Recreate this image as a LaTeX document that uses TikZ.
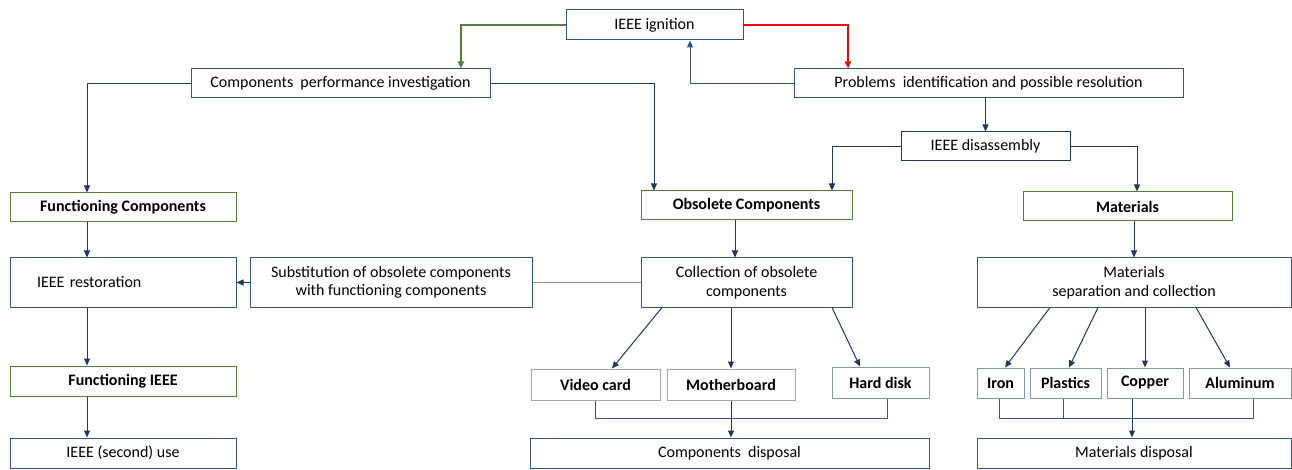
\documentclass[tikz,border=0pt]{standalone}
\usepackage{fontspec}
\setmainfont{Carlito}
\usepackage{xcolor}
\usetikzlibrary{arrows.meta, positioning, calc}

\definecolor{boxblue}{HTML}{2F5597}
\definecolor{boxnavy}{HTML}{1F3864}
\definecolor{boxgreen}{HTML}{548235}
\definecolor{partgray}{HTML}{A5A5A5}
\definecolor{partblue}{HTML}{8497B0}
\definecolor{linkred}{HTML}{FF0000}

\begin{document}
\begin{tikzpicture}[
    x=1pt, y=-1pt,
    font=\fontsize{16}{18.5}\selectfont,
    box/.style={draw=boxblue, line width=1pt, align=center, inner sep=0pt, fill=white},
    greenbox/.style={box, draw=boxgreen, font=\fontsize{16}{18.5}\selectfont\bfseries},
    partbox/.style={box, draw=partblue, font=\fontsize{16}{18.5}\selectfont\bfseries},
    arrow/.style={-{Triangle[length=7pt, width=6pt]}, draw=boxnavy, line width=1pt},
    greenarrow/.style={arrow, draw=boxgreen, line width=2pt},
    redarrow/.style={arrow, draw=linkred, line width=2pt},
    link/.style={draw=boxblue, line width=1pt}
]
    \useasboundingbox (0,0) rectangle (1292,470);

    % Top row
    \node[box, minimum width=177pt, minimum height=30pt] (ign) at (654.5,25) {IEEE ignition};
    \node[box, minimum width=299pt, minimum height=29pt] (perf) at (340.5,83.5) {Components\ \ performance investigation};
    \node[box, minimum width=389pt, minimum height=29pt] (prob) at (988.5,83.5) {Problems\ \ identification and possible resolution};
    \node[box, draw=boxnavy, minimum width=169pt, minimum height=29pt] (disasm) at (985.5,146.5) {IEEE disassembly};

    % Green headings
    \node[greenbox, minimum width=226pt, minimum height=29pt] (fcomp) at (123,207.5) {Functioning Components};
    \node[greenbox, minimum width=211pt, minimum height=29pt] (obs) at (746.5,205.5) {Obsolete Components};
    \node[greenbox, minimum width=209pt, minimum height=29pt] (mat) at (1127.5,206.5) {Materials};

    % Middle row
    \node[box, minimum width=226pt, minimum height=49pt, text width=172pt, align=left, inner xsep=27pt] (restor) at (123,282.5) {IEEE restoration};
    \node[box, minimum width=282pt, minimum height=49pt] (subst) at (391,282.5) {Substitution of obsolete components\\with functioning components};
    \node[box, minimum width=211pt, minimum height=49pt] (coll) at (746.5,282.5) {Collection of obsolete\\components};
    \node[box, minimum width=314pt, minimum height=49pt] (matsep) at (1134,282.5) {Materials\\separation and collection};

    % Parts
    \node[partbox, draw=partgray, minimum width=129pt, minimum height=31pt] (video) at (595.5,384.5) {Video card};
    \node[partbox, draw=partgray, minimum width=128pt, minimum height=31pt] (mother) at (731,384.5) {Motherboard};
    \node[partbox, minimum width=97pt, minimum height=31pt] (hard) at (880.5,382.5) {Hard disk};
    \node[partbox, minimum width=47pt, minimum height=30pt] (iron) at (1000.5,383) {Iron};
    \node[partbox, minimum width=71pt, minimum height=30pt] (plast) at (1065.5,383) {Plastics};
    \node[partbox, minimum width=76pt, minimum height=30pt] (copper) at (1145,383) {Copper};
    \node[partbox, minimum width=102pt, minimum height=30pt] (alum) at (1240,383) {Aluminum};

    % Bottom row
    \node[greenbox, minimum width=226pt, minimum height=30pt] (fieee) at (123,381) {Functioning IEEE};
    \node[box, minimum width=226pt, minimum height=30pt] (use) at (123,453) {IEEE (second) use};
    \node[box, minimum width=399pt, minimum height=30pt] (cdisp) at (729.5,453) {Components\ \ disposal};
    \node[box, minimum width=314pt, minimum height=30pt] (mdisp) at (1134,453) {Materials disposal};

    % Top connectors
    \draw[greenarrow] (ign.west) -| ([xshift=120.5pt]perf.north);
    \draw[redarrow] (ign.east) -| ([xshift=-140.5pt]prob.north);
    \draw[arrow, draw=boxblue] (prob.west) -| ([xshift=35.5pt]ign.south);
    \draw[arrow] (perf.west) -| ([xshift=-36pt]fcomp.north);
    \draw[arrow] (perf.east) -| ([xshift=-92.5pt]obs.north);
    \draw[arrow] (prob.south -| disasm) -- (disasm.north);
    \draw[arrow] (disasm.west) -| ([xshift=85.5pt]obs.north);
    \draw[arrow] (disasm.east) -| ([xshift=9.5pt]mat.north);

    % Left column
    \draw[arrow] ([xshift=-36pt]fcomp.south) -- ([xshift=-36pt]restor.north);
    \draw[arrow] ([xshift=-36pt]restor.south) -- ([xshift=-36pt]fieee.north);
    \draw[arrow] ([xshift=-36pt]fieee.south) -- ([xshift=-36pt]use.north);
    \draw[link, draw=partblue] (coll.west) -- (subst.east);
    \draw[arrow] (subst.west) -- (restor.east);

    % Obsolete components
    \draw[arrow] ([xshift=-11.5pt]obs.south) -- ([xshift=-11.5pt]coll.north);
    \draw[arrow] ([xshift=-84.5pt]coll.south) -- ([xshift=16.5pt]video.north);
    \draw[arrow] (coll.south -| mother) -- (mother.north);
    \draw[arrow] ([xshift=85.5pt]coll.south) -- ([xshift=-20.5pt]hard.north);
    \draw[link] (video.south) -- ++(0,18) -| ([xshift=6.5pt]hard.south);
    \draw[arrow] (mother.south) -- (mother.south |- cdisp.north);

    % Materials
    \draw[arrow] (mat.south -| matsep) -- (matsep.north);
    \draw[arrow] ([xshift=-84pt]matsep.south) -- ([xshift=4.5pt]iron.north);
    \draw[arrow] ([xshift=-36pt]matsep.south) -- ([xshift=3.5pt]plast.north);
    \draw[arrow] (matsep.south -| copper) -- (copper.north);
    \draw[arrow] ([xshift=62pt]matsep.south) -- ([xshift=-10pt]alum.north);
    \draw[link] ([xshift=-1.5pt]iron.south) -- ++(0,20) -| ([xshift=13pt]alum.south);
    \draw[link] ([xshift=-2.5pt]plast.south) -- ++(0,20);
    \draw[arrow] ([xshift=-13pt]copper.south) -- ([xshift=-13pt]copper.south |- mdisp.north);

\end{tikzpicture}
\end{document}
